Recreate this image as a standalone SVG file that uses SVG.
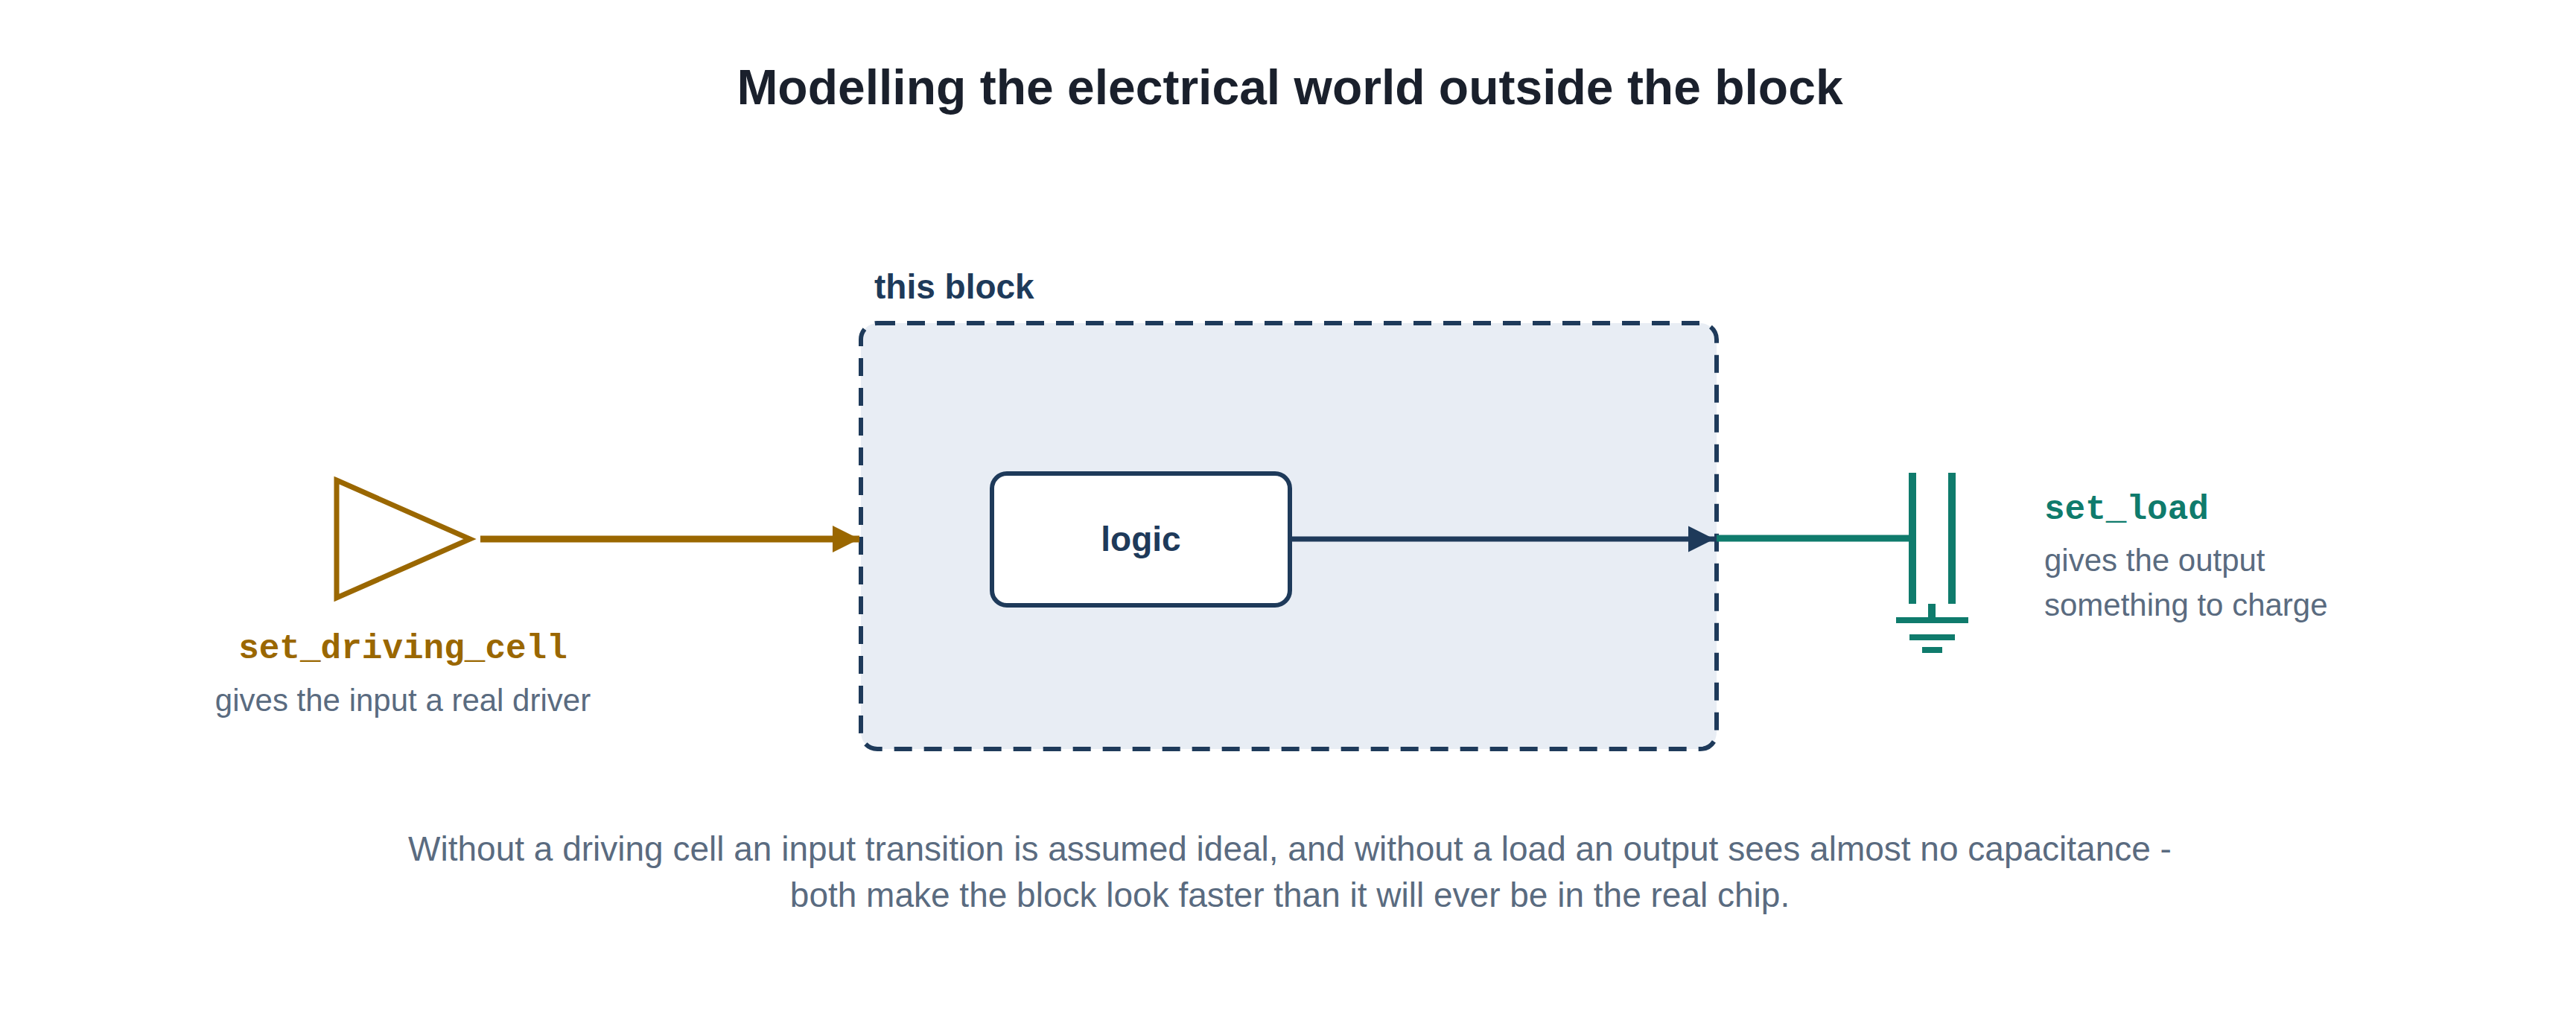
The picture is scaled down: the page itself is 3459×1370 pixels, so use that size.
<svg xmlns="http://www.w3.org/2000/svg" width="3459" height="1370" viewBox="0 0 3459 1370">
<style>
.t{font-family:"Liberation Sans",Arial,sans-serif}
.m{font-family:"Liberation Mono","Courier New",monospace;font-weight:bold}
.g{fill:#5a6b80;font-size:42px}
</style>
<defs>
<marker id="ag" viewBox="0 0 10 10" refX="10" refY="5" markerWidth="4" markerHeight="4.4" orient="auto" markerUnits="strokeWidth"><path d="M0,0L10,5L0,10z" fill="#9a6700"/></marker>
<marker id="an" viewBox="0 0 10 10" refX="10" refY="5" markerWidth="5" markerHeight="5.4" orient="auto" markerUnits="strokeWidth"><path d="M0,0L10,5L0,10z" fill="#1e3a5a"/></marker>
</defs>
<rect width="3459" height="1370" fill="#fff"/>
<text class="t" x="1732" y="140" font-size="66" font-weight="bold" fill="#1a202c" text-anchor="middle">Modelling the electrical world outside the block</text>
<g id="block">
<rect x="1156" y="434" width="1149" height="572" rx="22" fill="#e8edf4" stroke="#1e3a5a" stroke-width="6" stroke-dasharray="24 16"/>
<text class="t" x="1174" y="401" font-size="46" font-weight="bold" fill="#1e3a5a">this block</text>
</g>
<g id="logic">
<rect x="1332" y="636" width="400" height="177" rx="20" fill="#fff" stroke="#1e3a5a" stroke-width="6"/>
<text class="t" x="1532" y="740" font-size="46" font-weight="bold" fill="#1e3a5a" text-anchor="middle">logic</text>
</g>
<g id="driver">
<path d="M452,645L631,724L452,803Z" fill="none" stroke="#9a6700" stroke-width="7"/>
<text class="m" x="541" y="884" font-size="46" fill="#9a6700" text-anchor="middle">set_driving_cell</text>
<text class="t g" x="541" y="955" text-anchor="middle">gives the input a real driver</text>
</g>
<g id="load">
<g stroke="#0f7b6c" stroke-width="10" fill="none">
<path d="M2568,635V811M2621,635V811M2594,811V833"/>
<path d="M2546,833H2643M2564,856H2625M2581,873H2608" stroke-width="8"/>
</g>
<text class="m" x="2745" y="697" font-size="46" fill="#0f7b6c">set_load</text>
<text class="t g" x="2745" y="767">gives the output</text>
<text class="t g" x="2745" y="827">something to charge</text>
</g>
<g id="connectors" fill="none">
<path d="M645,724H1154" stroke="#9a6700" stroke-width="9" marker-end="url(#ag)"/>
<path d="M1732,724H2302" stroke="#1e3a5a" stroke-width="7" marker-end="url(#an)"/>
<path d="M2305,723H2568" stroke="#0f7b6c" stroke-width="9"/>
</g>
<text class="t g" x="1732" y="1156" text-anchor="middle" style="font-size:46px">Without a driving cell an input transition is assumed ideal, and without a load an output sees almost no capacitance -</text>
<text class="t g" x="1732" y="1218" text-anchor="middle" style="font-size:46px">both make the block look faster than it will ever be in the real chip.</text>
</svg>
